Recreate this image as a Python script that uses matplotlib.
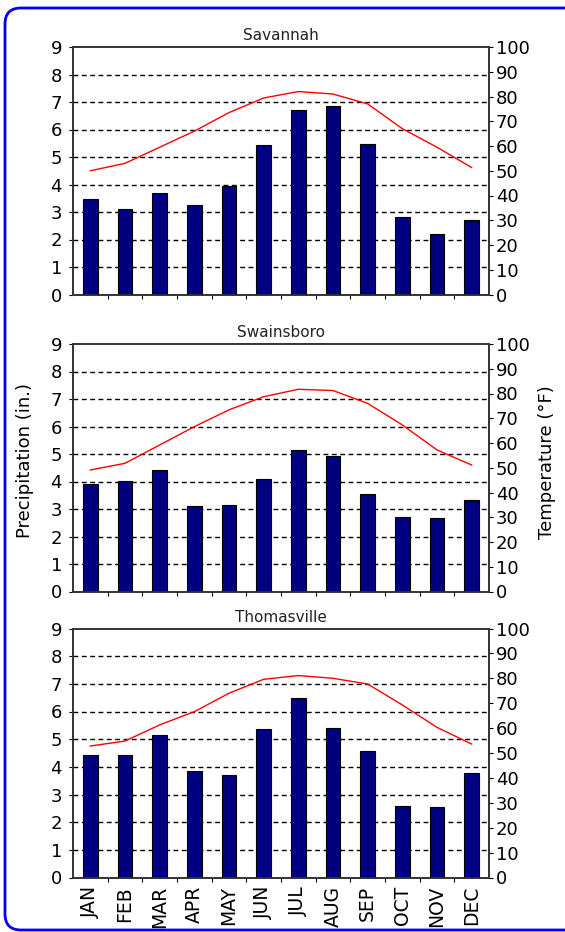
import numpy as np
import matplotlib
matplotlib.use("Agg")
import matplotlib.pyplot as plt
from matplotlib.patches import FancyBboxPatch

plt.rcParams.update({
    "font.family": ["DejaVu Sans"],
    "font.size": 12,
})

months = ["JAN", "FEB", "MAR", "APR", "MAY", "JUN",
          "JUL", "AUG", "SEP", "OCT", "NOV", "DEC"]

cities = ["Savannah", "Swainsboro", "Thomasville"]

savannah_precip = [3.46, 3.10, 3.69, 3.24, 3.96, 5.44, 6.71, 6.84, 5.48, 2.83, 2.20, 2.70]
savannah_temp = [50.0, 53.0, 59.5, 66.0, 73.5, 79.4, 82.0, 81.0, 77.0, 67.0, 59.5, 51.3]

swainsboro_precip = [3.92, 4.01, 4.42, 3.11, 3.16, 4.10, 5.13, 4.92, 3.54, 2.71, 2.66, 3.34]
swainsboro_temp = [49.1, 51.8, 59.2, 66.6, 73.4, 78.7, 81.7, 81.2, 76.0, 67.3, 57.2, 51.1]

thomasville_precip = [4.43, 4.43, 5.15, 3.85, 3.72, 5.38, 6.50, 5.42, 4.57, 2.59, 2.55, 3.76]
thomasville_temp = [52.8, 54.8, 61.3, 66.6, 74.0, 79.6, 81.1, 80.0, 77.7, 69.3, 60.3, 53.6]

precip = [savannah_precip, swainsboro_precip, thomasville_precip]
temps = [savannah_temp, swainsboro_temp, thomasville_temp]

W, H = 565, 932
fig = plt.figure(figsize=(W / 100, H / 100), dpi=100)

# blue rounded frame in pixels, right side runs off the canvas
frame = FancyBboxPatch((5, 2), 585, 922, boxstyle="round,pad=0,rounding_size=16",
                       transform=None, fill=False, edgecolor="#0000ff", linewidth=2.0)
fig.patches.append(frame)

# axes boxes in pixels: (top, bottom)
boxes = [(47, 294.5), (344, 591.5), (628.5, 877.5)]
left_px, right_px = 73, 489

x = np.arange(len(months))
for i, (top, bot) in enumerate(boxes):
    ax = fig.add_axes([left_px / W, 1 - bot / H, (right_px - left_px) / W, (bot - top) / H])
    ax.bar(x, precip[i], width=0.42, color="#000080", edgecolor="black", linewidth=0.8, zorder=3)
    ax.set_xlim(-0.5, 11.5)
    ax.set_ylim(0, 9)
    ax.set_yticks(range(10))
    for g in range(1, 9):
        ax.axhline(g, color="black", linestyle=(0, (3.5, 2.5)), linewidth=1.0, zorder=1)
    ax.set_xticks(np.arange(0.5, 11, 1))
    ax.set_xticklabels([])
    ax.set_xticks(x, minor=True)
    ax.tick_params(axis="x", which="major", direction="out", length=3, width=0.8)
    ax.tick_params(axis="x", which="minor", length=0)
    if i == 2:
        ax.set_xticklabels(months, minor=True, rotation=90, fontsize=13.5)
        ax.tick_params(axis="x", which="minor", pad=6)
    ax.tick_params(axis="y", direction="out", length=3, width=0.8, labelsize=13, pad=5)
    for s in ax.spines.values():
        s.set_color("#333333")
        s.set_linewidth(1.2)
    ax.set_title(cities[i], fontsize=11, pad=5, color="#222222")

    ax2 = ax.twinx()
    ax2.plot(x, temps[i], color="#ff0000", linewidth=1.0, zorder=4)
    ax2.set_ylim(0, 100)
    ax2.set_yticks(range(0, 101, 10))
    ax2.tick_params(axis="y", direction="out", length=3, width=0.8, labelsize=13, pad=2)
    for s in ax2.spines.values():
        s.set_color("#333333")
        s.set_linewidth(1.2)

fig.text(25 / W, 1 - 460 / H, "Precipitation (in.)", rotation=90,
         ha="center", va="center", fontsize=13)
fig.text(547 / W, 1 - 462 / H, "Temperature (°F)", rotation=90,
         ha="center", va="center", fontsize=13)

fig.savefig("out.png", dpi=100, facecolor="white")
